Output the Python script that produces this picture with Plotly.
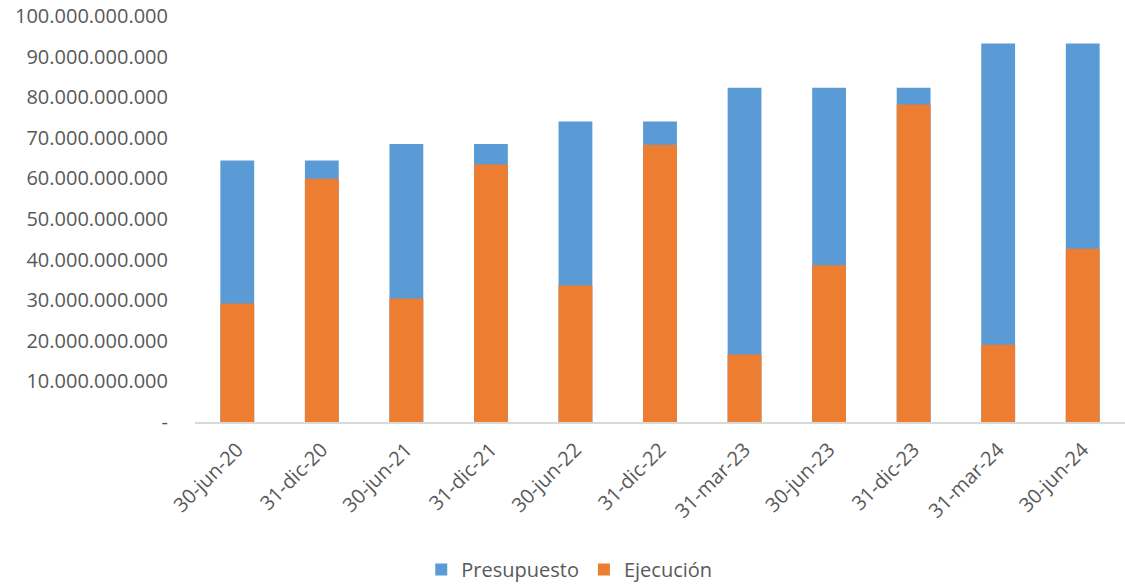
import plotly.graph_objects as go

categories = ["30-jun-20", "31-dic-20", "30-jun-21", "31-dic-21", "30-jun-22", "31-dic-22",
              "31-mar-23", "30-jun-23", "31-dic-23", "31-mar-24", "30-jun-24"]
presupuesto = [64.4e9, 64.4e9, 68.5e9, 68.5e9, 74.0e9, 74.0e9,
               82.3e9, 82.3e9, 82.3e9, 93.2e9, 93.2e9]
ejecucion = [29.2e9, 59.9e9, 30.4e9, 63.4e9, 33.6e9, 68.3e9,
             16.6e9, 38.6e9, 78.2e9, 19.0e9, 42.7e9]
y_tickvals = [0, 10e9, 20e9, 30e9, 40e9, 50e9, 60e9, 70e9, 80e9, 90e9, 100e9]
y_ticktext = ["-", "10.000.000.000", "20.000.000.000", "30.000.000.000", "40.000.000.000",
              "50.000.000.000", "60.000.000.000", "70.000.000.000", "80.000.000.000",
              "90.000.000.000", "100.000.000.000"]

FONT = "Open Sans"
GRAY = "#595959"

fig = go.Figure()
fig.add_trace(go.Bar(x=categories, y=presupuesto, name="Presupuesto", marker_color="#5B9BD5",
                     marker_line_width=0))
fig.add_trace(go.Bar(x=categories, y=ejecucion, name="Ejecución", marker_color="#ED7D31",
                     marker_line_width=0))

fig.update_layout(
    barmode="overlay",
    bargap=0.6,
    width=1125, height=586,
    margin=dict(l=195, r=0, t=16, b=164, autoexpand=False),
    plot_bgcolor="white", paper_bgcolor="white",
    font=dict(family=FONT, size=20, color=GRAY),
    showlegend=True,
    legend=dict(orientation="h", xref="container", yref="container",
                x=0.506, xanchor="center", y=0.028, yanchor="middle",
                font=dict(family=FONT, size=20, color=GRAY),
                itemwidth=30, traceorder="normal"),
)
fig.update_yaxes(range=[0, 100e9], tickvals=y_tickvals, ticktext=y_ticktext,
                 showgrid=False, zeroline=False, showline=False, ticks="",
                 ticklabelstandoff=26, automargin=False, ticklabeloverflow="allow",
                 tickfont=dict(family=FONT, size=20, color=GRAY))
fig.update_xaxes(showgrid=False, showline=True, linecolor="#D9D9D9", linewidth=2,
                 ticks="", tickangle=-45, automargin=False, ticklabelstandoff=6,
                 tickfont=dict(family=FONT, size=20, color=GRAY))

fig.write_html("out.html",
               config={"displayModeBar": False},
               post_script="document.body.style.margin='0';document.body.style.overflow='hidden';")
